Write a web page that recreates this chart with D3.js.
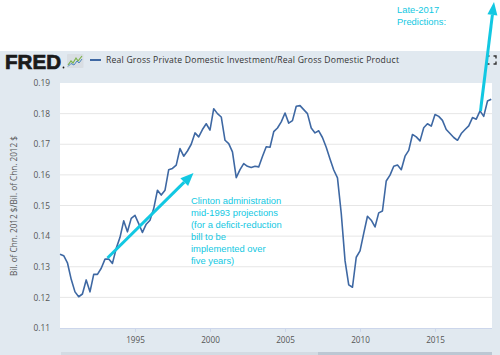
<!DOCTYPE html>
<html>
<head>
<meta charset="utf-8">
<script src="https://cdn.jsdelivr.net/npm/d3@7"></script>
<style>
  html, body { margin: 0; padding: 0; background: #fff; }
  svg { display: block; }
</style>
</head>
<body>
<svg id="chart" width="500" height="355"></svg>
<script>
// ---- data (quarterly, starting 1990 Q1) ----
const seriesName = "Real Gross Private Domestic Investment/Real Gross Domestic Product";
const startYear = 1990;
const values = [
  0.1341, 0.1336, 0.1313, 0.1259, 0.1218, 0.1202, 0.1211, 0.1257,
  0.1218, 0.1275, 0.1275, 0.1295, 0.1325, 0.1325, 0.1311, 0.1360,
  0.1396, 0.1450, 0.1414, 0.1458, 0.1468, 0.1441, 0.1412, 0.1439,
  0.1452, 0.1490, 0.1550, 0.1534, 0.1550, 0.1617, 0.1621, 0.1632,
  0.1686, 0.1661, 0.1678, 0.1700, 0.1737, 0.1724, 0.1748, 0.1767,
  0.1746, 0.1816, 0.1800, 0.1789, 0.1713, 0.1702, 0.1675, 0.1591,
  0.1617, 0.1637, 0.1628, 0.1624, 0.1628, 0.1626, 0.1660, 0.1692,
  0.1690, 0.1741, 0.1753, 0.1773, 0.1802, 0.1769, 0.1777, 0.1824,
  0.1826, 0.1813, 0.1800, 0.1753, 0.1737, 0.1744, 0.1722, 0.1690,
  0.1652, 0.1616, 0.1590, 0.1474, 0.1320, 0.1241, 0.1233, 0.1331,
  0.1352, 0.1409, 0.1465, 0.1452, 0.1430, 0.1476, 0.1482, 0.1580,
  0.1599, 0.1628, 0.1632, 0.1617, 0.1661, 0.1680, 0.1732, 0.1724,
  0.1711, 0.1754, 0.1767, 0.1759, 0.1797, 0.1791, 0.1778, 0.1748,
  0.1735, 0.1722, 0.1713, 0.1735, 0.1748, 0.1760, 0.1787, 0.1782,
  0.1809, 0.1791, 0.1841, 0.1847
];
const yTicks = [0.11, 0.12, 0.13, 0.14, 0.15, 0.16, 0.17, 0.18, 0.19];
const xTickYears = [1995, 2000, 2005, 2010, 2015];
const yAxisTitle = "Bil. of Chn. 2012 $/Bil. of Chn. 2012 $";
const clintonNote = ["Clinton administration", "mid-1993 projections", "(for a deficit-reduction", "bill to be", "implemented over", "five years)"];
const lateNote = ["Late-2017", "Predictions:"];

const data = values.map((v, i) => ({ date: new Date(startYear, i * 3, 1), value: v }));

// ---- layout ----
const svg = d3.select("#chart");
const W = 500, H = 355;
const plot = { left: 60, right: 492, top: 83, bottom: 328 };
const cyan = "#12c8e2";
const lineBlue = "#3e68a3";

const x = d3.scaleTime()
  .domain([new Date(1990, 0, 1), new Date(2018, 9, 1)])
  .range([plot.left, plot.left + (values.length - 1) * 3.75]);
const y = d3.scaleLinear().domain([0.11, 0.19]).range([plot.bottom, plot.top]);

// backgrounds
svg.append("rect").attr("x", 0).attr("y", 0).attr("width", W).attr("height", H).attr("fill", "#ffffff");
svg.append("rect").attr("x", 0).attr("y", 51).attr("width", W).attr("height", H - 51).attr("fill", "#e1e9f0");
svg.append("rect").attr("x", plot.left).attr("y", plot.top)
  .attr("width", plot.right - plot.left).attr("height", plot.bottom - plot.top).attr("fill", "#ffffff");

// range slider strip at bottom
svg.append("rect").attr("x", 61).attr("y", 352).attr("width", 257).attr("height", 3).attr("fill", "#d3dbe3");
svg.append("rect").attr("x", 318).attr("y", 352).attr("width", 174).attr("height", 3).attr("fill", "#bcc7d3");

// header: FRED logo
svg.append("text").attr("x", 5).attr("y", 68.5)
  .attr("font-family", "Liberation Sans, Arial, sans-serif").attr("font-weight", "bold")
  .attr("font-size", 19.5).attr("fill", "#1a1a1a")
  .attr("stroke", "#1a1a1a").attr("stroke-width", 0.7)
  .attr("textLength", 56).attr("lengthAdjust", "spacingAndGlyphs")
  .text("FRED");
svg.append("circle").attr("cx", 63.5).attr("cy", 67.5).attr("r", 0.9).attr("fill", "#1a1a1a");
const icon = svg.append("g");
icon.append("rect").attr("x", 67).attr("y", 54).attr("width", 16.5).attr("height", 14).attr("rx", 1).attr("fill", "#d9dee3");
icon.append("path").attr("d", "M68,65 L71,61 L73,63 L76,58 L78,61 L82,56").attr("fill", "none").attr("stroke", "#7bb24c").attr("stroke-width", 1.2);
icon.append("path").attr("d", "M68,66.5 L71,63.5 L74,65 L77,61 L79,63 L82,59").attr("fill", "none").attr("stroke", "#4b86c0").attr("stroke-width", 1);

// legend line + title
svg.append("line").attr("x1", 90).attr("x2", 101).attr("y1", 60).attr("y2", 60)
  .attr("stroke", lineBlue).attr("stroke-width", 2);
svg.append("text").attr("x", 106).attr("y", 63.2)
  .attr("font-family", "Open Sans, sans-serif").attr("font-size", 8.6).attr("fill", "#333")
  .attr("textLength", 293).attr("lengthAdjust", "spacing")
  .text(seriesName);

// fullscreen icon
const fs = svg.append("g").attr("stroke", "#333").attr("stroke-width", 1.4).attr("fill", "none");
[[487, 56, 1, 1], [496, 56, -1, 1], [487, 64, 1, -1], [496, 64, -1, -1]].forEach(([cx, cy, sx, sy]) => {
  fs.append("path").attr("d", `M${cx},${cy + 2.5 * sy} L${cx},${cy} L${cx + 2.5 * sx},${cy}`);
});

// gridlines
svg.append("g").selectAll("line").data(yTicks.filter(t => t > 0.11 && t < 0.19)).join("line")
  .attr("x1", plot.left).attr("x2", plot.right)
  .attr("y1", d => y(d)).attr("y2", d => y(d))
  .attr("stroke", "#e6e6e6").attr("stroke-width", 1);

// y axis
const yAxis = svg.append("g").attr("transform", `translate(${plot.left},0)`)
  .call(d3.axisLeft(y).tickValues(yTicks).tickFormat(d3.format(".2f")).tickSize(0).tickPadding(10));
yAxis.select(".domain").remove();
yAxis.selectAll("text").attr("font-family", "Open Sans, sans-serif").attr("font-size", 8.4).attr("fill", "#555");

// x axis
const xAxis = svg.append("g").attr("transform", `translate(0,${plot.bottom})`)
  .call(d3.axisBottom(x).tickValues(xTickYears.map(yr => new Date(yr, 0, 1)))
    .tickFormat(d3.timeFormat("%Y")).tickSize(4).tickPadding(5).tickSizeOuter(0));
xAxis.select(".domain").attr("d", `M${plot.left},0.5H${plot.right}`).attr("stroke", "#ccd6eb");
xAxis.selectAll(".tick line").attr("stroke", "#ccd6eb");
xAxis.selectAll("text").attr("font-family", "Open Sans, sans-serif").attr("font-size", 8.2).attr("fill", "#555");

// y axis title
svg.append("text")
  .attr("transform", `translate(17,206) rotate(-90)`)
  .attr("text-anchor", "middle")
  .attr("font-family", "Open Sans, sans-serif").attr("font-size", 8.2).attr("fill", "#555")
  .text(yAxisTitle);

// data line
svg.append("path").datum(data)
  .attr("fill", "none").attr("stroke", lineBlue).attr("stroke-width", 1.6)
  .attr("stroke-linejoin", "round")
  .attr("d", d3.line().x(d => x(d.date)).y(d => y(d.value)));

// arrows
function arrow(x1, y1, x2, y2, w, headLen, headW) {
  const a = Math.atan2(y2 - y1, x2 - x1);
  const bx = x2 - headLen * Math.cos(a), by = y2 - headLen * Math.sin(a);
  svg.append("line").attr("x1", x1).attr("y1", y1).attr("x2", bx).attr("y2", by)
    .attr("stroke", cyan).attr("stroke-width", w);
  const px = -Math.sin(a) * headW / 2, py = Math.cos(a) * headW / 2;
  svg.append("path")
    .attr("d", `M${x2},${y2} L${bx + px},${by + py} L${bx - px},${by - py} Z`)
    .attr("fill", cyan);
}
arrow(107.5, 258, 193.5, 173, 3, 13, 11);
arrow(480.5, 111, 494, 2, 3, 13, 10);

// annotation texts
svg.append("g").selectAll("text").data(clintonNote).join("text")
  .attr("x", 191).attr("y", (d, i) => 203.5 + i * 12)
  .attr("font-family", "Liberation Sans, Arial, sans-serif").attr("font-size", 9.4).attr("fill", cyan)
  .text(d => d);
svg.append("g").selectAll("text").data(lateNote).join("text")
  .attr("x", 397).attr("y", (d, i) => 12.7 + i * 12.5)
  .attr("font-family", "Liberation Sans, Arial, sans-serif").attr("font-size", 9.4).attr("fill", cyan)
  .text(d => d);
</script>
</body>
</html>
